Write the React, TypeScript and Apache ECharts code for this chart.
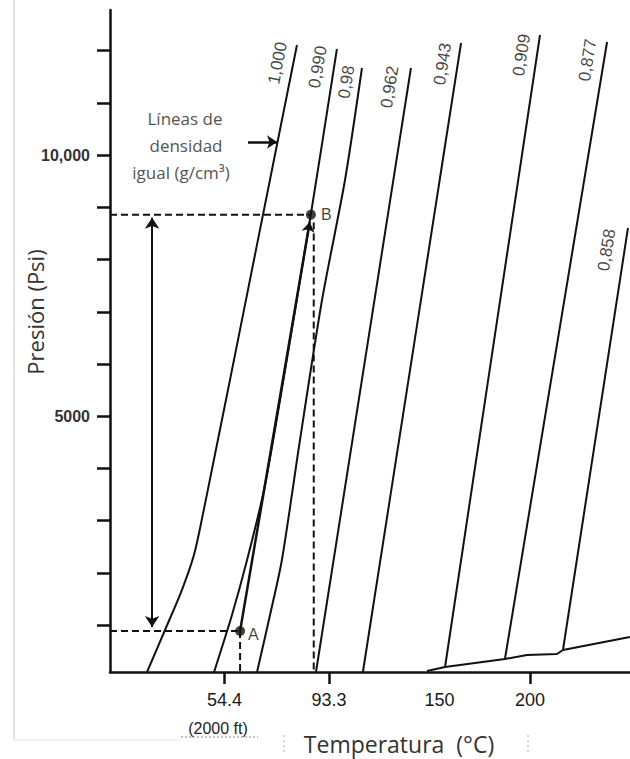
import React, { useEffect, useRef } from 'react';
import * as echarts from 'echarts';

// Axis ranges (temperature °C on x, pressure psi on y)
const X_MIN = -22.95;
const X_MAX = 253.08;
const Y_MIN = 100;
const Y_MAX = 12780;

// Tick labels
const xLabelValues = [37.8, 93.3, 152, 200];
const xLabelTexts = ['54.4', '93.3', '150', '200'];
const xTickValues = [37.8, 93.3, 200];
const yTickValues = [1000, 2000, 3000, 4000, 5000, 6000, 7000, 8000, 9000, 10000, 11000, 12000];
const yLabelValues = [5000, 10000];
const yLabelTexts = ['5000', '10,000'];

// Lines of equal density (g/cm3): [temperature, pressure]
const densityNames = ['1,000', '0,990', '0,98', '0,962', '0,943', '0,909', '0,877', '0,858'];
const line1000 = [[76.3, 12110], [54.5, 8180], [38.6, 5310], [31.1, 3970], [26.3, 3110], [21.6, 2340], [15.2, 1670], [6.2, 900], [-3.3, 100]];
const line0990 = [[97.5, 12033], [83.7, 8873], [67.3, 5310], [58.8, 3586], [49.8, 2245], [41.8, 1192], [32.3, 100]];
const line098 = [[110.8, 11669], [101.8, 9524], [89.6, 7225], [77.9, 4544], [68.3, 2245], [62.0, 1192], [55.1, 100]];
const line0962 = [[136.8, 11669], [86.4, 100]];
const line0943 = [[163.4, 12148], [111.3, 100]];
const line0909 = [[205.3, 12301], [154.9, 196]];
const line0877 = [[240.9, 12167], [186.7, 349]];
const line0858 = [[252.0, 8604], [217.5, 521]];
const baseCurve = [[145.3, 119], [154.9, 196], [186.7, 349], [198.4, 426], [214.3, 445], [217.5, 521], [253.0, 770]];

// Density label anchors and angles
const densityLabelPos = [[66.0, 11765], [87.3, 11688], [102.6, 11401], [125.5, 11305], [153.6, 11746], [195.5, 11918], [230.6, 11822], [240.7, 8183]];
const densityLabelAngle = [79, 80, 81, 81, 81, 81, 81, 81];

// Points A and B
const pointA = [46.1, 885];
const pointB = [83.7, 8860];
const bDropTemp = 85.2;
const arrowABEnd = [83.1, 8720];
const doubleArrowTemp = -0.6;
const doubleArrowTop = 8800;
const doubleArrowBottom = 960;
const noteArrowStart = [50.3, 10252];
const noteArrowEnd = [65.7, 10252];

const FONT_ARIAL = '"Liberation Sans", Arial, sans-serif';
const FONT_SANS = '"Open Sans", "Noto Sans", sans-serif';

export default function App() {
  const ref = useRef<HTMLDivElement>(null);

  useEffect(() => {
    if (!ref.current) return;
    const chart = echarts.init(ref.current, undefined, { renderer: 'svg' });

    const lineStyle = { color: '#111', width: 2 };
    const dashStyle = { color: '#111', width: 2, type: [7, 4] as any };
    const mkLine = (name: string, data: number[][], smooth: number | boolean = false) => ({
      type: 'line',
      name,
      data,
      symbol: 'none',
      showSymbol: false,
      smooth,
      silent: true,
      lineStyle,
      z: 3,
    });

    const option: any = {
      animation: false,
      backgroundColor: '#fff',
      grid: { left: 110, right: 0, top: 10, bottom: 87, containLabel: false, outerBoundsMode: 'none' },
      xAxis: {
        type: 'value',
        min: X_MIN,
        max: X_MAX,
        axisLine: { show: true, onZero: false, lineStyle: { color: '#111', width: 2.5 } },
        axisTick: { show: true, customValues: xTickValues, length: 12, lineStyle: { color: '#111', width: 2.5 } },
        axisLabel: {
          show: true,
          customValues: xLabelValues,
          margin: 19,
          fontSize: 18,
          fontFamily: FONT_ARIAL,
          color: '#1a1a1a',
          formatter: (v: number) => {
            const i = xLabelValues.findIndex((x) => Math.abs(x - v) < 1e-6);
            return i >= 0 ? xLabelTexts[i] : '';
          },
        },
        splitLine: { show: false },
      },
      yAxis: {
        type: 'value',
        min: Y_MIN,
        max: Y_MAX,
        axisLine: { show: true, onZero: false, lineStyle: { color: '#111', width: 2.5 } },
        axisTick: { show: true, customValues: yTickValues, length: 13, lineStyle: { color: '#111', width: 2.5 } },
        axisLabel: {
          show: true,
          customValues: yLabelValues,
          margin: 20,
          fontSize: 16,
          fontWeight: 'bold',
          fontFamily: FONT_ARIAL,
          color: '#333',
          formatter: (v: number) => {
            const i = yLabelValues.indexOf(v);
            return i >= 0 ? yLabelTexts[i] : '';
          },
        },
        splitLine: { show: false },
      },
      series: [
        mkLine(densityNames[0], line1000, 0.3),
        mkLine(densityNames[1], line0990, 0.25),
        mkLine(densityNames[2], line098, 0.25),
        mkLine(densityNames[3], line0962),
        mkLine(densityNames[4], line0943),
        mkLine(densityNames[5], line0909),
        mkLine(densityNames[6], line0877),
        mkLine(densityNames[7], line0858),
        mkLine('base', baseCurve),
        {
          type: 'line',
          data: [[X_MIN, pointB[1]], pointB],
          symbol: 'none',
          silent: true,
          lineStyle: dashStyle,
          markLine: {
            silent: true,
            symbol: ['arrow', 'arrow'],
            symbolSize: 11,
            label: { show: false },
            emphasis: { disabled: true },
            lineStyle: { type: 'solid', color: '#111', width: 2 },
            data: [[{ coord: [doubleArrowTemp, doubleArrowTop] }, { coord: [doubleArrowTemp, doubleArrowBottom] }]],
          },
        },
        {
          type: 'line',
          data: [[X_MIN, pointA[1]], pointA],
          symbol: 'none',
          silent: true,
          lineStyle: dashStyle,
          markLine: {
            silent: true,
            symbol: ['none', 'arrow'],
            symbolSize: 10,
            label: { show: false },
            emphasis: { disabled: true },
            lineStyle: { type: 'solid', color: '#111', width: 2.5 },
            data: [
              [{ coord: pointA }, { coord: arrowABEnd }],
              [{ coord: noteArrowStart }, { coord: noteArrowEnd }],
            ],
          },
        },
        {
          type: 'line',
          data: [[bDropTemp, pointB[1] - 150], [bDropTemp, Y_MIN]],
          symbol: 'none',
          silent: true,
          lineStyle: dashStyle,
        },
        {
          type: 'line',
          data: [[pointA[0], pointA[1]], [pointA[0], Y_MIN]],
          symbol: 'none',
          silent: true,
          lineStyle: dashStyle,
        },
        {
          type: 'scatter',
          silent: true,
          symbolSize: 10,
          itemStyle: { color: '#111' },
          z: 5,
          data: [
            { value: pointA, label: { show: true, formatter: 'A', position: 'right', distance: 3, offset: [0, 3] } },
            { value: pointB, label: { show: true, formatter: 'B', position: 'right', distance: 5 } },
          ],
          label: { fontSize: 16, fontFamily: FONT_ARIAL, color: '#111' },
        },
        {
          type: 'scatter',
          silent: true,
          symbolSize: 1,
          itemStyle: { color: 'rgba(0,0,0,0)' },
          z: 4,
          data: densityNames.map((n, i) => ({
            value: densityLabelPos[i],
            label: {
              show: true,
              formatter: n,
              rotate: densityLabelAngle[i],
              position: 'inside',
              fontSize: 17,
              fontFamily: FONT_ARIAL,
              color: '#111',
            },
          })),
        },
      ],
      graphic: [
        {
          type: 'line',
          silent: true,
          shape: { x1: 14, y1: 0, x2: 14, y2: 740 },
          style: { stroke: '#d8d8d8', lineWidth: 1.5 },
        },
        {
          type: 'line',
          silent: true,
          shape: { x1: 14, y1: 740, x2: 180, y2: 740 },
          style: { stroke: '#e4e4e4', lineWidth: 1 },
        },
        {
          type: 'text',
          silent: true,
          x: 35,
          y: 312,
          rotation: Math.PI / 2,
          style: { text: 'Presión (Psi)', fill: '#333', font: `22px ${FONT_SANS}`, textAlign: 'center', textVerticalAlign: 'middle' },
        },
        {
          type: 'text',
          silent: true,
          x: 399,
          y: 744,
          style: { text: 'Temperatura  (°C)', fill: '#333', font: `23px ${FONT_SANS}`, textAlign: 'center', textVerticalAlign: 'middle' },
        },
        {
          type: 'line',
          silent: true,
          shape: { x1: 284, y1: 735, x2: 284, y2: 755 },
          style: { stroke: '#aaa', lineWidth: 1, lineDash: [2, 3] },
        },
        {
          type: 'line',
          silent: true,
          shape: { x1: 528, y1: 735, x2: 528, y2: 755 },
          style: { stroke: '#aaa', lineWidth: 1, lineDash: [2, 3] },
        },
        {
          type: 'text',
          silent: true,
          x: 218,
          y: 728,
          style: { text: '(2000 ft)', fill: '#222', font: `16px ${FONT_ARIAL}`, textAlign: 'center', textVerticalAlign: 'middle' },
        },
        {
          type: 'line',
          silent: true,
          shape: { x1: 181, y1: 737, x2: 258, y2: 737 },
          style: { stroke: '#888', lineWidth: 1, lineDash: [2, 2] },
        },
        {
          type: 'text',
          silent: true,
          x: 185,
          y: 118,
          style: { text: 'Líneas de', fill: '#555', font: `17px ${FONT_SANS}`, textAlign: 'center', textVerticalAlign: 'middle' },
        },
        {
          type: 'text',
          silent: true,
          x: 186,
          y: 145,
          style: { text: 'densidad', fill: '#555', font: `17px ${FONT_SANS}`, textAlign: 'center', textVerticalAlign: 'middle' },
        },
        {
          type: 'text',
          silent: true,
          x: 181,
          y: 172,
          style: { text: 'igual (g/cm³)', fill: '#555', font: `17px ${FONT_SANS}`, textAlign: 'center', textVerticalAlign: 'middle' },
        },
      ],
    };

    chart.setOption(option);
    return () => chart.dispose();
  }, []);

  return (
    <div
      ref={ref}
      style={{ position: 'fixed', left: 0, top: 0, width: 630, height: 759, background: '#fff' }}
    />
  );
}
